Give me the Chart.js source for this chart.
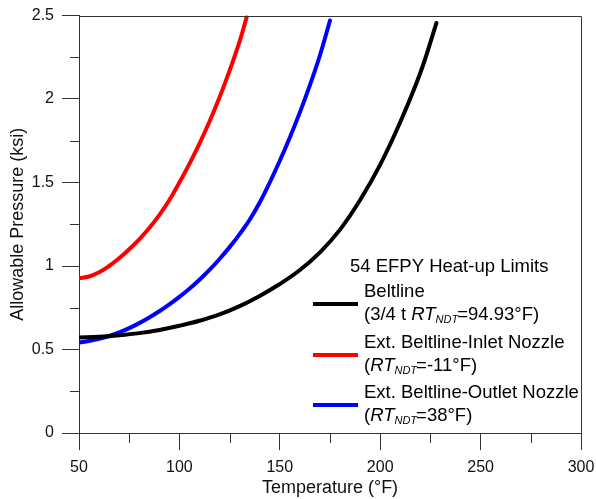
<!DOCTYPE html>
<html><head><meta charset="utf-8">
<script src="https://cdn.jsdelivr.net/npm/chart.js@4.4.1/dist/chart.umd.min.js"></script>
<style>html,body{margin:0;padding:0;background:#fff;overflow:hidden}</style>
</head><body>
<canvas id="c" width="596" height="499"></canvas>
<script>
const FONT = "'Liberation Sans', Arial, Helvetica, sans-serif";

// ---- data ----
const xTickValues = [50, 100, 150, 200, 250, 300];
const xMinorTicks = [75, 125, 175, 225, 275];
const yTickValues = [0, 0.5, 1, 1.5, 2, 2.5];
const yMinorTicks = [0.25, 0.75, 1.25, 1.75, 2.25];

const beltlineT = [50, 60, 70, 80, 90, 100, 110, 120, 130, 140, 150, 160, 170, 180, 190, 200, 210, 220, 228];
const beltlineP = [0.572, 0.576, 0.585, 0.598, 0.617, 0.642, 0.672, 0.71, 0.76, 0.821, 0.892, 0.976, 1.082, 1.218, 1.395, 1.607, 1.862, 2.157, 2.455];

const inletT = [50, 55, 60, 65, 70, 75, 80, 85, 90, 95, 100, 105, 110, 115, 120, 125, 130, 133.5];
const inletP = [0.927, 0.937, 0.962, 1.0, 1.046, 1.1, 1.16, 1.228, 1.305, 1.395, 1.5, 1.612, 1.733, 1.865, 2.01, 2.17, 2.345, 2.49];

const outletT = [50, 55, 60, 65, 70, 75, 80, 85, 90, 95, 100, 105, 110, 115, 120, 125, 130, 135, 140, 145, 150, 155, 160, 165, 170, 175];
const outletP = [0.541, 0.551, 0.564, 0.581, 0.602, 0.628, 0.658, 0.692, 0.729, 0.77, 0.815, 0.864, 0.918, 0.977, 1.042, 1.113, 1.191, 1.277, 1.38, 1.5, 1.63, 1.77, 1.92, 2.083, 2.262, 2.47];

const seriesNames = ['Beltline', 'Ext. Beltline-Inlet Nozzle', 'Ext. Beltline-Outlet Nozzle'];
const seriesColors = ['#000000', '#ff0000', '#0000ff'];
const legendTitle = '54 EFPY Heat-up Limits';
// second legend line per series: [text, italic, subscript]
const seriesNotes = [
  [['(3/4 t ', 0, 0], ['RT', 1, 0], ['NDT', 1, 1], ['=94.93°F)', 0, 0]],
  [['(', 0, 0], ['RT', 1, 0], ['NDT', 1, 1], ['=-11°F)', 0, 0]],
  [['(', 0, 0], ['RT', 1, 0], ['NDT', 1, 1], ['=38°F)', 0, 0]]
];
const xTitle = 'Temperature (°F)';
const yTitle = 'Allowable Pressure (ksi)';

const pts = (T, P) => T.map((t, i) => ({x: t, y: P[i]}));
const AXIS = '#333';

const framePlugin = {
  id: 'frame',
  afterDraw(chart) {
    const {ctx, chartArea: a, scales: {x, y}} = chart;
    ctx.save();
    ctx.strokeStyle = AXIS;
    ctx.lineWidth = 1;
    ctx.beginPath();
    const T = Math.round(a.top) + 0.5, R = Math.round(a.right) + 0.5;
    ctx.moveTo(a.left, T); ctx.lineTo(R, T); ctx.lineTo(R, a.bottom);
    xMinorTicks.forEach(v => {
      const p = Math.round(x.getPixelForValue(v)) + 0.5;
      ctx.moveTo(p, a.bottom); ctx.lineTo(p, a.bottom + 10);
    });
    yMinorTicks.forEach(v => {
      const p = Math.round(y.getPixelForValue(v)) + 0.5;
      ctx.moveTo(a.left, p); ctx.lineTo(a.left - 9, p);
    });
    ctx.stroke();

    // legend
    const titleX = a.right - 231, titleY = a.bottom - 166;
    ctx.fillStyle = '#000';
    ctx.textBaseline = 'middle';
    ctx.textAlign = 'left';
    ctx.font = '18.5px ' + FONT;
    ctx.fillText(legendTitle, titleX, titleY);
    const lineX = a.right - 268, lineLen = 45, textX = lineX + 51;
    const entryY = [a.bottom - 129, a.bottom - 78, a.bottom - 28];
    chart.data.datasets.forEach((ds, i) => {
      const ly = entryY[i];
      ctx.strokeStyle = ds.borderColor;
      ctx.lineWidth = 4;
      ctx.beginPath(); ctx.moveTo(lineX, ly); ctx.lineTo(lineX + lineLen, ly); ctx.stroke();
      ctx.font = '18.5px ' + FONT;
      ctx.fillText(ds.label, textX, ly - 12);
      let cx = textX;
      seriesNotes[i].forEach(([t, it, sub]) => {
        ctx.font = (it ? 'italic ' : '') + (sub ? '11px ' : '18.5px ') + FONT;
        ctx.fillText(t, cx, ly + 11 + (sub ? 5 : 0));
        cx += ctx.measureText(t).width + (sub ? -1 : 0);
      });
    });
    ctx.restore();
  }
};

new Chart(document.getElementById('c'), {
  type: 'line',
  data: {
    datasets: [
      {label: seriesNames[0], data: pts(beltlineT, beltlineP), borderColor: seriesColors[0]},
      {label: seriesNames[1], data: pts(inletT, inletP), borderColor: seriesColors[1]},
      {label: seriesNames[2], data: pts(outletT, outletP), borderColor: seriesColors[2]}
    ]
  },
  options: {
    responsive: false,
    animation: false,
    parsing: false,
    layout: {padding: {left: 0, right: 15, top: 15.5, bottom: 0}},
    elements: {
      line: {borderWidth: 4, tension: 0.4, cubicInterpolationMode: 'default', fill: false,
             borderCapStyle: 'round', borderJoinStyle: 'round'},
      point: {radius: 0, hoverRadius: 0}
    },
    plugins: {legend: {display: false}, tooltip: {enabled: false}},
    scales: {
      x: {
        type: 'linear', min: 50, max: 300,
        afterBuildTicks: s => { s.ticks = xTickValues.map(v => ({value: v})); },
        afterFit: s => { s.height = 66; s.paddingLeft = 0; s.paddingRight = 0; },
        grid: {drawOnChartArea: false, drawTicks: true, tickLength: 17, tickColor: AXIS, tickWidth: 1},
        border: {display: true, color: AXIS, width: 1},
        ticks: {color: '#111', padding: 8, font: {family: FONT, size: 16}, maxRotation: 0, autoSkip: false},
        title: {display: true, text: xTitle, color: '#111', font: {family: FONT, size: 18}, padding: {top: 0, bottom: 0}}
      },
      y: {
        type: 'linear', min: 0, max: 2.5,
        afterBuildTicks: s => { s.ticks = yTickValues.map(v => ({value: v})); },
        afterFit: s => { s.width = 79; s.paddingTop = 0; s.paddingBottom = 0; },
        grid: {drawOnChartArea: false, drawTicks: true, tickLength: 17, tickColor: AXIS, tickWidth: 1},
        border: {display: true, color: AXIS, width: 1},
        ticks: {color: '#111', padding: 8, font: {family: FONT, size: 16}, autoSkip: false,
                callback: v => String(v)},
        title: {display: true, text: yTitle, color: '#111', font: {family: FONT, size: 18}, padding: {top: 7, bottom: 0}}
      }
    }
  },
  plugins: [framePlugin]
});
</script>
</body></html>
